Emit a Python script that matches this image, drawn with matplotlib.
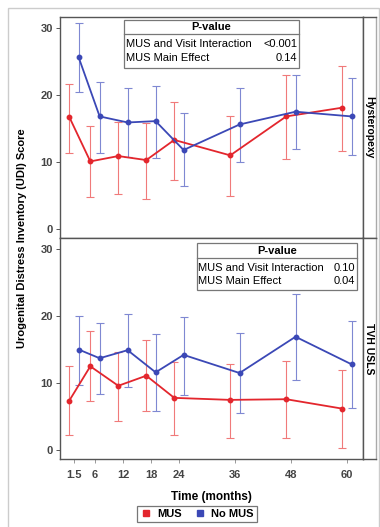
import matplotlib
matplotlib.use("Agg")
import numpy as np
import matplotlib.pyplot as plt
from matplotlib.patches import Rectangle
from matplotlib.lines import Line2D

plt.rcParams['font.family'] = ['Liberation Sans', 'DejaVu Sans']

# visit times (months)
months = [1.5, 6, 12, 18, 24, 36, 48, 60]
tick_labels = ['1.5', '6', '12', '18', '24', '36', '48', '60']

# Hysteropexy panel
hyst_mus = [16.7, 10.1, 10.9, 10.3, 13.3, 11.0, 16.8, 18.1]
hyst_mus_lo = [11.4, 4.8, 5.2, 4.5, 7.4, 5.0, 10.4, 11.6]
hyst_mus_hi = [21.7, 15.4, 15.9, 15.8, 19.0, 16.9, 22.9, 24.3]
hyst_nomus = [25.6, 16.8, 15.9, 16.1, 11.8, 15.6, 17.5, 16.8]
hyst_nomus_lo = [20.5, 11.4, 10.8, 10.6, 6.4, 10.0, 11.9, 11.0]
hyst_nomus_hi = [30.7, 21.9, 21.1, 21.3, 17.3, 21.1, 22.9, 22.5]

# TVH USLS panel
tvh_mus = [7.4, 12.5, 9.6, 11.1, 7.8, 7.5, 7.6, 6.2]
tvh_mus_lo = [2.3, 7.3, 4.3, 5.9, 2.3, 1.9, 1.8, 0.3]
tvh_mus_hi = [12.5, 17.7, 14.7, 16.4, 13.1, 12.9, 13.3, 11.9]
tvh_nomus = [15.0, 13.7, 14.9, 11.6, 14.2, 11.5, 16.9, 12.8]
tvh_nomus_lo = [9.7, 8.4, 9.4, 5.9, 8.3, 5.5, 10.5, 6.3]
tvh_nomus_hi = [20.0, 18.9, 20.3, 17.3, 19.9, 17.5, 23.2, 19.3]

panel_names = ['Hysteropexy', 'TVH USLS']
pvals = [('<0.001', '0.14'), ('0.10', '0.04')]

RED = '#e3262d'
BLUE = '#3b48b6'
RED_ERR = '#f07a7a'
BLUE_ERR = '#7f88d2'
EDGE = '#555555'

W, H = 380, 527
fig = plt.figure(figsize=(W / 100, H / 100), dpi=100)


def fx(px):
    return px / W


def fy(py):
    return 1 - py / H


# outer light frame
fig.patches.append(Rectangle((fx(8), fy(532)), fx(371), 524 / H, transform=fig.transFigure,
                             fill=False, edgecolor='#cccccc', lw=1.0))

ax_left, ax_right = 60, 362.7
strip_right = 376
panels = [(17, 238), (238, 459)]
offset = 1.0

data = [
    (hyst_mus, hyst_mus_lo, hyst_mus_hi, hyst_nomus, hyst_nomus_lo, hyst_nomus_hi),
    (tvh_mus, tvh_mus_lo, tvh_mus_hi, tvh_nomus, tvh_nomus_lo, tvh_nomus_hi),
]

axes = []
for i, (top, bot) in enumerate(panels):
    ax = fig.add_axes([fx(ax_left), fy(bot), fx(ax_right - ax_left), (bot - top) / H])
    axes.append(ax)
    m, mlo, mhi, n, nlo, nhi = data[i]
    x = np.array(months)
    m, mlo, mhi = np.array(m), np.array(mlo), np.array(mhi)
    n, nlo, nhi = np.array(n), np.array(nlo), np.array(nhi)
    ax.errorbar(x - offset, m, yerr=[m - mlo, mhi - m], fmt='none', ecolor=RED_ERR,
                elinewidth=0.8, capsize=3, capthick=0.8, zorder=2)
    ax.errorbar(x + offset, n, yerr=[n - nlo, nhi - n], fmt='none', ecolor=BLUE_ERR,
                elinewidth=0.8, capsize=3, capthick=0.8, zorder=2)
    ax.plot(x - offset, m, color=RED, lw=1.3, marker='o', ms=3.2, zorder=3)
    ax.plot(x + offset, n, color=BLUE, lw=1.3, marker='o', ms=3.2, zorder=3)

    ax.set_xlim(-1.5, 63.4)
    ax.set_ylim(-1.3, 31.6)
    ax.set_yticks([0, 10, 20, 30])
    ax.set_xticks(months)
    ax.tick_params(axis='y', direction='out', length=3, width=0.7, colors='#555555',
                   labelsize=8, labelcolor='#444444', pad=2)
    ax.tick_params(axis='x', direction='out', length=3, width=0.7, colors='#999999',
                   labelsize=8, labelcolor='#444444', pad=5)
    for s in ax.spines.values():
        s.set_color(EDGE)
        s.set_linewidth(1.0)
    if i == 0:
        ax.tick_params(axis='x', bottom=False, labelbottom=False)
    else:
        ax.set_xticklabels(tick_labels)
        for lab in ax.get_xticklabels():
            lab.set_fontweight('bold')
    for lab in ax.get_yticklabels():
        lab.set_fontweight('bold')

    # strip label on right
    sax = fig.add_axes([fx(ax_right), fy(bot), fx(strip_right - ax_right), (bot - top) / H])
    sax.set_xticks([])
    sax.set_yticks([])
    for s in sax.spines.values():
        s.set_color(EDGE)
        s.set_linewidth(1.0)
    sax.spines['right'].set_color('#aaaaaa')
    sax.text(0.5, 0.5, panel_names[i], rotation=270, ha='center', va='center',
             fontsize=7.5, fontweight='bold', transform=sax.transAxes)

# p-value tables
tables = [(124, 299, 20, 34, 68), (197, 357, 243, 258, 290)]
for (x0, x1, y0, yh, y1), (pint, pmain) in zip(tables, pvals):
    fig.patches.append(Rectangle((fx(x0), fy(y1)), fx(x1 - x0), (y1 - y0) / H,
                                 transform=fig.transFigure, fill=True, facecolor='white',
                                 edgecolor='#777777', lw=0.9, zorder=5))
    fig.lines.append(Line2D([fx(x0), fx(x1)], [fy(yh), fy(yh)], transform=fig.transFigure,
                            color='#777777', lw=0.9, zorder=6))
    fig.text(fx((x0 + x1) / 2), fy((y0 + yh) / 2), 'P-value', ha='center', va='center',
             fontsize=8, fontweight='bold', zorder=7)
    r1 = yh + (y1 - yh) * 0.3
    r2 = yh + (y1 - yh) * 0.72
    fig.text(fx(x0 + 1.5), fy(r1), 'MUS and Visit Interaction', ha='left', va='center',
             fontsize=8, zorder=7)
    fig.text(fx(x1 - 1.5), fy(r1), pint, ha='right', va='center', fontsize=8, zorder=7)
    fig.text(fx(x0 + 1.5), fy(r2), 'MUS Main Effect', ha='left', va='center',
             fontsize=8, zorder=7)
    fig.text(fx(x1 - 1.5), fy(r2), pmain, ha='right', va='center', fontsize=8, zorder=7)

fig.text(fx(22), fy(238), 'Urogenital Distress Inventory (UDI) Score', rotation=90,
         ha='center', va='center', fontsize=8, fontweight='bold')
fig.text(fx(211), fy(497), 'Time (months)', ha='center', va='center',
         fontsize=8.5, fontweight='bold')

handles = [Line2D([], [], ls='none', marker='s', ms=4.5, color=RED),
           Line2D([], [], ls='none', marker='s', ms=4.5, color=BLUE)]
leg = fig.legend(handles, ['MUS', 'No MUS'], loc='center', bbox_to_anchor=(fx(197), fy(514)),
                 ncol=2, frameon=True, fancybox=False, fontsize=8, handlelength=1.0,
                 handletextpad=0.5, columnspacing=1.2, borderpad=0.3)
leg.get_frame().set_edgecolor('#555555')
leg.get_frame().set_linewidth(0.9)
for t in leg.get_texts():
    t.set_fontweight('bold')

fig.savefig('out.png', dpi=100)
